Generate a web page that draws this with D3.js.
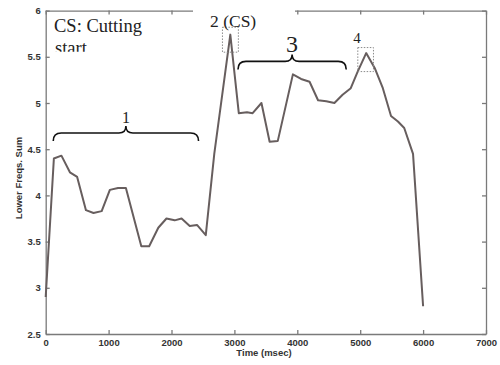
<!DOCTYPE html>
<html>
<head>
<meta charset="utf-8">
<script src="https://cdn.jsdelivr.net/npm/d3@7"></script>
<style>
  html, body { margin: 0; padding: 0; background: #fff; }
  svg { display: block; }
</style>
</head>
<body>
<div id="main-container"></div>
<script>
const WIDTH = 500
const HEIGHT = 365
const LEFT = 45.7, RIGHT = 486, TOP = 10.6, BOTTOM = 334

// Lower freqs. sum over time (msec)
const TIME = [0, 130, 250, 385, 500, 640, 760, 890, 1020, 1150, 1275, 1520, 1645, 1790, 1920,
  2050, 2160, 2290, 2405, 2545, 2680, 2935, 3070, 3200, 3290, 3430, 3560, 3690, 3930, 4060,
  4195, 4330, 4460, 4590, 4720, 4850, 4960, 5095, 5230, 5360, 5490, 5600, 5700, 5840, 6000]
const SUM = [2.9, 4.40, 4.43, 4.25, 4.20, 3.84, 3.81, 3.83, 4.06, 4.08, 4.08, 3.45, 3.45, 3.65, 3.75,
  3.73, 3.75, 3.67, 3.68, 3.57, 4.45, 5.74, 4.89, 4.90, 4.89, 5.00, 4.58, 4.59, 5.31, 5.26,
  5.23, 5.03, 5.02, 5.00, 5.09, 5.16, 5.34, 5.54, 5.38, 5.16, 4.86, 4.80, 4.73, 4.45, 2.80]

const X_TICKS = [0, 1000, 2000, 3000, 4000, 5000, 6000, 7000]
const Y_TICKS = [2.5, 3, 3.5, 4, 4.5, 5, 5.5, 6]

// braces: [label, t start, t end, level]
const BRACES = [['1', 120, 2430, 4.675], ['3', 3057, 4778, 5.45]]
// dotted boxes around peaks: [t0, t1, v0, v1]
const PEAK_BOXES = [[2810, 3063, 5.55, 5.82], [4962, 5211, 5.34, 5.60]]

const DATA = TIME.map((t, i) => ({ t, v: SUM[i] }))

const X_SCALE = d3.scaleLinear().domain([0, 7000]).range([LEFT, RIGHT])
const Y_SCALE = d3.scaleLinear().domain([2.5, 6]).range([BOTTOM, TOP])

const SVG = d3.select('#main-container').append('svg')
    .attr('width', WIDTH)
    .attr('height', HEIGHT)

SVG.append('rect').attr('width', WIDTH).attr('height', HEIGHT).attr('fill', '#fff')

const AXIS_COLOR = '#7a7a7a'
const styleAxis = g => {
    g.selectAll('path, line').attr('stroke', AXIS_COLOR).attr('stroke-width', 1.3)
    g.selectAll('text')
        .attr('fill', '#333')
        .style('font-family', 'Liberation Sans, Arial, sans-serif')
        .style('font-size', '9.5px')
        .style('font-weight', 'bold')
}

SVG.append('g')
    .attr('transform', `translate(0, ${BOTTOM})`)
    .call(d3.axisBottom(X_SCALE).tickValues(X_TICKS).tickSizeInner(-4).tickSizeOuter(0).tickPadding(5).tickFormat(d3.format('d')))
    .call(styleAxis)

SVG.append('g')
    .attr('transform', `translate(0, ${TOP})`)
    .call(d3.axisTop(X_SCALE).tickValues(X_TICKS).tickSizeInner(-4).tickSizeOuter(0).tickFormat(''))
    .call(styleAxis)

SVG.append('g')
    .attr('transform', `translate(${LEFT}, 0)`)
    .call(d3.axisLeft(Y_SCALE).tickValues(Y_TICKS).tickSizeInner(-4).tickSizeOuter(0).tickPadding(5).tickFormat(d => String(d)))
    .call(styleAxis)

SVG.append('g')
    .attr('transform', `translate(${RIGHT}, 0)`)
    .call(d3.axisRight(Y_SCALE).tickValues(Y_TICKS).tickSizeInner(-4).tickSizeOuter(0).tickFormat(''))
    .call(styleAxis)

// Axis titles
SVG.append('text')
    .attr('x', 264)
    .attr('y', 356)
    .attr('text-anchor', 'middle')
    .attr('fill', '#333')
    .style('font-family', 'Liberation Sans, Arial, sans-serif')
    .style('font-size', '9.5px')
    .style('font-weight', 'bold')
    .text('Time (msec)')

SVG.append('text')
    .attr('transform', 'translate(22, 178) rotate(-90)')
    .attr('text-anchor', 'middle')
    .attr('fill', '#333')
    .style('font-family', 'Liberation Sans, Arial, sans-serif')
    .style('font-size', '9.5px')
    .style('font-weight', 'bold')
    .text('Lower Freqs. Sum')

// Data line
SVG.append('path')
    .datum(DATA)
    .attr('fill', 'none')
    .attr('stroke', '#675e5e')
    .attr('stroke-width', 2)
    .attr('stroke-linejoin', 'round')
    .attr('d', d3.line().x(d => X_SCALE(d.t)).y(d => Y_SCALE(d.v)))

// white patch behind "2 (CS)" that hides part of the top frame
SVG.append('rect')
    .attr('x', 193).attr('y', 4).attr('width', 102).attr('height', 12)
    .attr('fill', '#fff')

// Dotted peak boxes
SVG.selectAll('rect.peak')
    .data(PEAK_BOXES)
    .enter()
    .append('rect')
    .attr('class', 'peak')
    .attr('x', d => X_SCALE(d[0]))
    .attr('y', d => Y_SCALE(d[3]))
    .attr('width', d => X_SCALE(d[1]) - X_SCALE(d[0]))
    .attr('height', d => Y_SCALE(d[2]) - Y_SCALE(d[3]))
    .attr('fill', 'none')
    .attr('stroke', '#8a8a8a')
    .attr('stroke-width', 1)
    .attr('stroke-dasharray', '1.5,1.5')

// Curly braces
const bracePath = (x0, x1, y, d, tip) => {
    const xm = (x0 + x1) / 2
    return `M${x0},${y + d} Q${x0},${y} ${x0 + d},${y} L${xm - tip},${y} Q${xm},${y} ${xm},${y - tip}`
        + ` Q${xm},${y} ${xm + tip},${y} L${x1 - d},${y} Q${x1},${y} ${x1},${y + d}`
}

SVG.selectAll('path.brace')
    .data(BRACES)
    .enter()
    .append('path')
    .attr('class', 'brace')
    .attr('fill', 'none')
    .attr('stroke', '#111')
    .attr('stroke-width', 1.6)
    .attr('d', d => bracePath(X_SCALE(d[1]), X_SCALE(d[2]), Y_SCALE(d[3]), 8, 7))

const serif = 'Liberation Serif, Times New Roman, serif'
const addLabel = (x, y, size, txt, anchor = 'start') => SVG.append('text')
    .attr('x', x).attr('y', y)
    .attr('text-anchor', anchor)
    .attr('fill', '#222')
    .style('font-family', serif)
    .style('font-size', size + 'px')
    .text(txt)

addLabel(126, 123, 16, '1', 'middle')
addLabel(292, 51.5, 24, '3', 'middle')
addLabel(357, 42.5, 15, '4', 'middle')
addLabel(210, 26.5, 17.5, '2 (CS)')
addLabel(54, 32, 18.5, 'CS: Cutting')

// "start" is cut off at the bottom in the original
SVG.append('clipPath').attr('id', 'startClip')
    .append('rect').attr('x', 40).attr('y', 36).attr('width', 150).attr('height', 15.7)
addLabel(55, 53.5, 18.5, 'start').attr('clip-path', 'url(#startClip)')
</script>
</body>
</html>
